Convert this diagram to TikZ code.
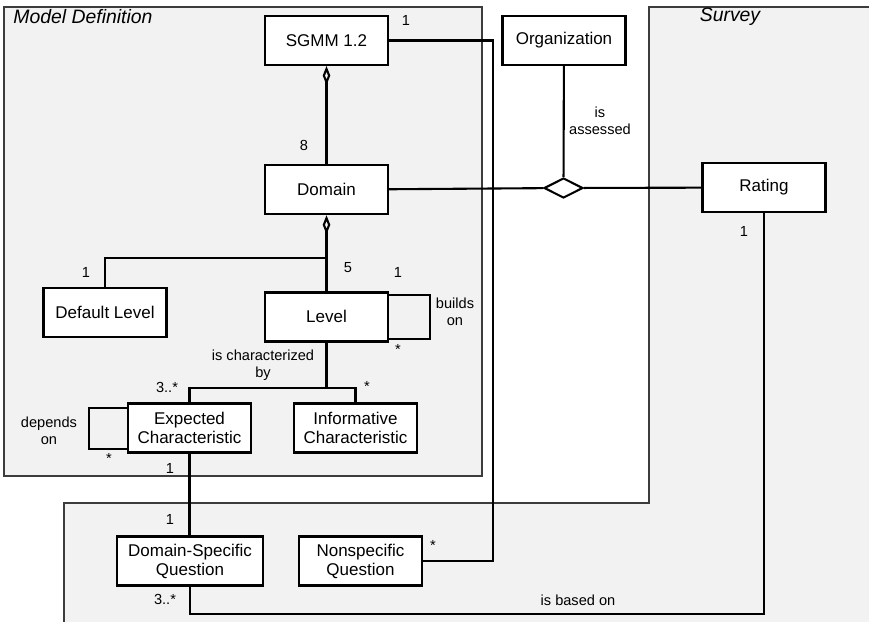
\documentclass[tikz,border=0pt]{standalone}
\usepackage{fontspec}
\setmainfont{Liberation Sans}
\usetikzlibrary{positioning}
\usetikzlibrary{calc}
\usetikzlibrary{arrows.meta}
\usetikzlibrary{shapes.geometric}
\definecolor{pkgfill}{HTML}{F2F2F2}
\definecolor{pkgline}{HTML}{3C3C3C}

\begin{document}
\begin{tikzpicture}[x=0.5pt, y=-0.5pt,
        node distance= 49pt and 20pt,
        box/.style={draw, rectangle, fill=white, line width=1.1pt, minimum width=61.5pt, minimum height=24.5pt, inner sep=0pt, align=center, font=\fontsize{8.5}{9.5}\selectfont},
        lbl/.style={inner sep=0pt, align=center, font=\fontsize{7.3}{8.6}\selectfont},
        title/.style={inner sep=0pt, font=\fontsize{9.7}{11}\selectfont\itshape},
        region/.style={fill=pkgfill, draw=pkgline, line width=0.7pt},
        assoc/.style={line width=1.05pt},
        agg/.style={assoc, {Diamond[open, length=9.5pt, width=3.8pt]}-},
    ]
        \clip (0,0) rectangle (869,622);
        \draw[region] (4,7) rectangle (482,476);
        \draw[region] (649,7) -- (880,7) -- (880,640) -- (64,640) -- (64,503) -- (649,503) -- cycle;
        \node[title, anchor=west] (mdtitle) at (13,17) {Model Definition};
        \node[title] (svtitle) at (730,17) {Survey};

        \node[box] (sgmm) at (326.5,40.5) {SGMM 1.2};
        \node[box, below = of sgmm] (domain) {Domain};
        \node[box, below = 38pt of domain] (level) {Level};
        \node[box] (deflevel) at (105,312.5) {Default Level};
        \node[box] (org) at (564,40.5) {Organization};
        \node[box] (rating) at (764,187.5) {Rating};
        \node[box] (expected) at (189.5,428) {Expected\\Characteristic};
        \node[box] (informative) at (355.5,428) {Informative\\Characteristic};
        \node[box, minimum width=73pt] (dsq) at (190,561) {Domain-Specific\\Question};
        \node[box] (nsq) at (360.5,561) {Nonspecific\\Question};
        \node[draw, diamond, fill=white, line width=1.05pt, minimum width=19.5pt, minimum height=10pt, inner sep=0pt] (ternary) at (563.5,188) {};
        \coordinate (lvsplit) at (326.5,258);
        \coordinate (charsplit) at (326.5,388);
        \coordinate (nsqbend) at (493,300);
        \coordinate (basedbend) at (480,614);

        \draw[agg] (sgmm) -- (domain);
        \draw[agg] (domain) -- (level);
        \draw[assoc] (lvsplit) -| (deflevel);
        \draw[assoc] ($(level.east)+(0,-22)$) -- ++(41,0) |- ($(level.east)+(0,22)$);
        \draw[assoc] (level) -- (charsplit);
        \draw[assoc] (charsplit) -| (expected);
        \draw[assoc] (charsplit) -| (informative);
        \draw[assoc] ($(expected.west)+(0,-20)$) -- ++(-38,0) |- ($(expected.west)+(0,21)$);
        \draw[assoc] (expected.south) -- (expected.south |- dsq.north);
        \draw[assoc] (sgmm) -| (nsqbend) |- (nsq);
        \draw[assoc] (domain) -- (ternary);
        \draw[assoc] (ternary) -- (rating);
        \draw[assoc] (org) -- (ternary);
        \draw[assoc] (rating) |- (basedbend) -| (dsq);

        \node[lbl] (msgmm) at (406,20) {1};
        \node[lbl] (mdomain) at (304,145) {8};
        \node[lbl] (assessed) at (600,121) {is\\assessed};
        \node[lbl] (mrating) at (744,231) {1};
        \node[lbl] (mdeflevel) at (86,272) {1};
        \node[lbl] (mlevel) at (348,268) {5};
        \node[lbl] (mbuildsa) at (398,272) {1};
        \node[lbl] (mbuildsb) at (398,349) {*};
        \node[lbl] (buildson) at (455,312) {builds\\on};
        \node[lbl] (characterized) at (263,365) {is characterized\\by};
        \node[lbl] (mexpected) at (167,387) {3..*};
        \node[lbl] (minformative) at (367,386) {*};
        \node[lbl] (dependson) at (49,431) {depends\\on};
        \node[lbl] (mdepends) at (109,458) {*};
        \node[lbl] (mexpq) at (170,468) {1};
        \node[lbl] (mdsqtop) at (170,519) {1};
        \node[lbl] (mdsqbot) at (165,599) {3..*};
        \node[lbl] (mnsq) at (433,545) {*};
        \node[lbl] (basedon) at (578,600) {is based on};
    \end{tikzpicture}
\end{document}
